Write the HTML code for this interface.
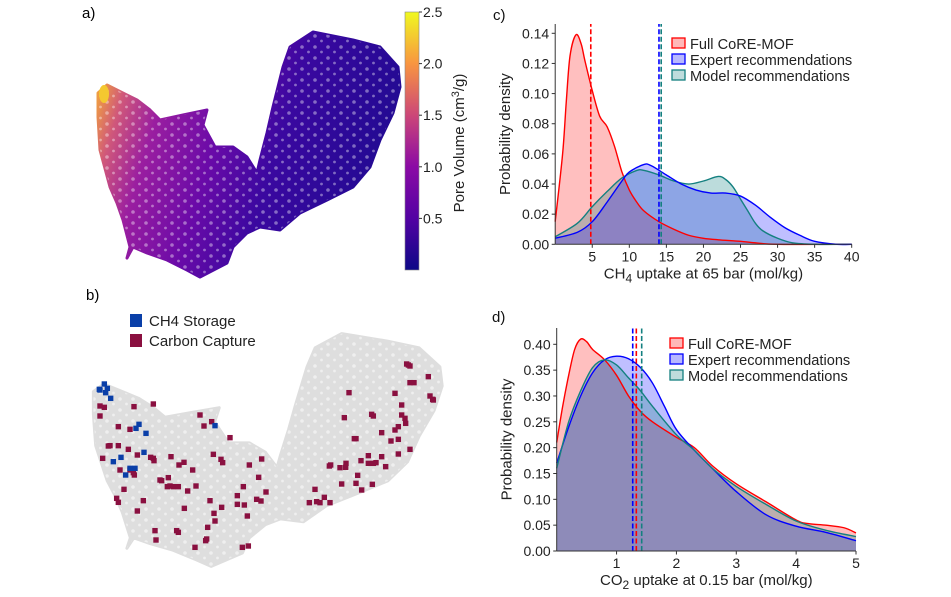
<!DOCTYPE html>
<html><head><meta charset="utf-8">
<style>
body{margin:0;background:#fff;}
svg{display:block;font-family:"Liberation Sans",sans-serif;}
</style></head>
<body>
<svg id="fig" width="951" height="597" viewBox="0 0 951 597" xmlns="http://www.w3.org/2000/svg">
<defs>
 <linearGradient id="pvgrad" gradientUnits="userSpaceOnUse" x1="98" y1="90" x2="400" y2="180">
  <stop offset="0" stop-color="#f0a040"/>
  <stop offset="0.08" stop-color="#d0587a"/>
  <stop offset="0.2" stop-color="#9a1ea0"/>
  <stop offset="0.4" stop-color="#6a0aa8"/>
  <stop offset="0.6" stop-color="#3a08a0"/>
  <stop offset="1" stop-color="#1e0a90"/>
 </linearGradient>
 <linearGradient id="cbgrad" x1="0" y1="1" x2="0" y2="0">
  <stop offset="0" stop-color="#0d0887"/>
  <stop offset="0.2" stop-color="#5302a3"/>
  <stop offset="0.4" stop-color="#8b0aa5"/>
  <stop offset="0.6" stop-color="#cc4778"/>
  <stop offset="0.8" stop-color="#f89540"/>
  <stop offset="1" stop-color="#f0f921"/>
 </linearGradient>
 <pattern id="speck" width="13" height="11" patternUnits="userSpaceOnUse">
  <circle cx="3" cy="3" r="1.8" fill="#fff"/>
  <circle cx="9.5" cy="8" r="1.4" fill="#fff"/>
 </pattern>
</defs>
<g id="panelA">
 <text x="82" y="18" font-size="15">a)</text>
</g>
<g id="panelB">
 <text x="86" y="300" font-size="15">b)</text>
 <rect x="130" y="314" width="12" height="13" fill="#0a3fa8"/>
 <text x="149" y="326" font-size="15" fill="#222">CH4 Storage</text>
 <rect x="130" y="334" width="12" height="13" fill="#8a1040"/>
 <text x="149" y="346" font-size="15" fill="#222">Carbon Capture</text>
</g>
<g id="panelC"></g>
<g id="panelD"></g>
</svg>
<script>
// ---- UMAP cloud outline (shared, in panel-a pixel space units) ----
const cloudX = [107,137,150,160,183,207,203,215,233,247,257,260,267,273,283,290,313,353,380,398,400,393,380,370,353,327,300,280,260,247,233,227,200,187,167,147,133,127,130,123,117,110,100,98,98];
const cloudY = [85,100,110,120,115,110,125,147,147,157,173,160,133,107,67,47,32,40,47,67,87,113,140,167,187,200,213,230,227,233,247,263,277,270,260,253,247,258,247,220,203,187,150,117,93];
// ---- panel b markers (UMAP units) ----
const carbonU = [120,133,120,175,210,222,280,145,150,175,128,205,232,272,280,282,180,210,220,223,192,170,175,250,232,285,288,350,355,300,305,325,322,330,340,355,333,357,372,398,383,408,373,420,432,455,510,460,483,488,605,568,596,532,550,532,553,590,603,618,562,450,485,462,465,443,440,437,405,547,565,765,748,770,780,793,810,808,812,840,857,858,845,888,893,903,905,925,937,925,940,948,965,977,965,935,940,883,888,853,867,1005,1005,1015,993,1015,1015,1050,1025,1025,1035,1037,1050,1062,1105,1110,1118,1120,1040,1045,1050];
const carbonV = [348,352,378,410,418,350,342,468,467,467,505,478,495,502,505,512,540,540,548,555,598,625,637,632,663,722,750,722,727,570,572,563,590,588,590,590,500,525,517,540,603,588,655,375,408,395,443,493,508,518,507,525,562,617,590,643,645,628,633,606,678,632,652,670,693,712,747,752,772,772,768,598,638,635,638,622,638,528,525,533,532,520,582,580,556,512,600,497,583,520,520,518,500,530,428,373,378,446,446,383,308,310,420,410,453,448,492,478,345,375,385,400,278,278,260,318,328,330,222,225,228];
const ch4U = [118,133,137,142,152,237,228,258,252,183,160,210,225,197,465,120];
const ch4V = [298,282,308,295,325,403,415,430,487,502,515,535,535,555,407,300];

// ---- panel c data ----
const cRedX = [0,1,1.5,2,2.8,3.5,4,5,6,7,8,9,10,11,12,14,16,18,20,22,25,27,30,40];
const cRedY = [0.015,0.06,0.095,0.125,0.139,0.133,0.122,0.102,0.085,0.078,0.065,0.048,0.036,0.028,0.022,0.015,0.01,0.006,0.004,0.003,0.002,0.001,0,0];
const cBlueX = [0,3,5,7,9,10,12,13,15,17,19,21,23,25,27,29,31,33,35,38,40];
const cBlueY = [0.004,0.008,0.015,0.028,0.042,0.048,0.053,0.052,0.046,0.040,0.036,0.034,0.034,0.032,0.026,0.018,0.011,0.006,0.002,0,0];
const cTealX = [0,3,5,7,9,11,12,14,16,18,20,22,23,24,25,26,27,28,30,32,35,40];
const cTealY = [0.005,0.014,0.025,0.035,0.044,0.049,0.049,0.046,0.042,0.040,0.042,0.045,0.043,0.038,0.030,0.022,0.014,0.009,0.004,0.001,0,0];
const cMeans = [4.8,14.0,14.3];
const cXTicks = [5,10,15,20,25,30,35,40];
const cYTicks = [0,0.02,0.04,0.06,0.08,0.10,0.12,0.14];

// ---- panel d data ----
const dRedX = [0,0.1,0.2,0.3,0.4,0.5,0.6,0.8,1.0,1.2,1.4,1.6,2.0,2.3,2.6,3.0,3.5,4.0,4.2,4.5,4.8,5];
const dRedY = [0.21,0.28,0.34,0.39,0.41,0.405,0.39,0.37,0.34,0.30,0.27,0.25,0.22,0.20,0.165,0.13,0.095,0.06,0.053,0.05,0.045,0.035];
const dBlueX = [0,0.2,0.4,0.6,0.8,1.0,1.2,1.4,1.6,1.8,2.0,2.3,2.6,3.0,3.5,4.0,4.5,5];
const dBlueY = [0.17,0.24,0.30,0.345,0.37,0.377,0.372,0.355,0.325,0.28,0.235,0.195,0.16,0.115,0.07,0.048,0.036,0.02];
const dTealX = [0,0.2,0.4,0.6,0.8,1.0,1.2,1.4,1.6,2.0,2.3,2.6,3.0,3.5,4.0,4.5,5];
const dTealY = [0.16,0.25,0.31,0.355,0.37,0.36,0.335,0.31,0.28,0.225,0.195,0.16,0.125,0.09,0.058,0.04,0.028];
const dMeans = [1.33,1.27,1.42];
const dXTicks = [1,2,3,4,5];
const dYTicks = [0,0.05,0.10,0.15,0.20,0.25,0.30,0.35,0.40];

const cbTicks = [0.5,1.0,1.5,2.0,2.5];

const NS = "http://www.w3.org/2000/svg";
function mk(tag, attrs, parent){const e=document.createElementNS(NS,tag);for(const k in attrs)e.setAttribute(k,attrs[k]);parent.appendChild(e);return e;}

// ---------- Panel A ----------
const pA = document.getElementById('panelA');
const aPts = cloudX.map((x,i)=>x+','+cloudY[i]).join(' ');
let cloudA = mk('polygon',{points:aPts,fill:'url(#pvgrad)','stroke':'url(#pvgrad)','stroke-width':3,'stroke-linejoin':'round'},pA);


let speckA = mk('polygon',{points:aPts,fill:'url(#speck)',opacity:0.4},pA);


let yel = mk('ellipse',{cx:104,cy:94,rx:5,ry:9,fill:'#f4c830'},pA);


// colorbar
const cbTop=12, cbBot=270, cbMax=2.5, cbMin=0;
const cbY = v => cbBot - (v-cbMin)/(cbMax-cbMin)*(cbBot-cbTop);
let cb = mk('rect',{x:405,y:cbTop,width:14,height:cbBot-cbTop,fill:'url(#cbgrad)',stroke:'#888','stroke-width':0.6},pA);


cbTicks.forEach(t=>{
  let l=mk('line',{x1:419,x2:422,y1:cbY(t),y2:cbY(t),stroke:'#333'},pA);
  
  
  let tx=mk('text',{x:423,y:cbY(t)+5,'font-size':14,fill:'#222'},pA);
  tx.textContent=t.toFixed(1);
  
  
});
let cbl = mk('text',{x:0,y:0,'font-size':15,fill:'#222','text-anchor':'middle',transform:'translate(464,143) rotate(-90)'},pA);
cbl.innerHTML='Pore Volume (cm<tspan dy="-5" font-size="11">3</tspan><tspan dy="5">/g)</tspan>';



// ---------- Panel B ----------
const pB = document.getElementById('panelB');
const bx = x => 98 + (x-102)*1.155, by = y => 383 + (y-84)*0.95;
const bPts = cloudX.map((x,i)=>bx(x)+','+by(cloudY[i])).join(' ');
let cloudB = mk('polygon',{points:bPts,fill:'#dedede',stroke:'#dedede','stroke-width':3,'stroke-linejoin':'round'},pB);


let speckB = mk('polygon',{points:bPts,fill:'url(#speck)',opacity:0.5},pB);


const ux = u => 60 + u/3, uy = v => 290 + v/3;
carbonU.forEach((u,i)=>{
  let r=mk('rect',{x:ux(u)-2.7,y:uy(carbonV[i])-2.7,width:5.4,height:5.4,fill:'#8a1040'},pB);
  
  
});
ch4U.forEach((u,i)=>{
  let r=mk('rect',{x:ux(u)-2.7,y:uy(ch4V[i])-2.7,width:5.4,height:5.4,fill:'#0a3fa8'},pB);
  
  
});

// ---------- density panels ----------
function smoothPath(px,py){
  let d='M'+px[0]+','+py[0];
  for(let i=0;i<px.length-1;i++){
    const x0=px[Math.max(i-1,0)],y0=py[Math.max(i-1,0)],x1=px[i],y1=py[i],x2=px[i+1],y2=py[i+1],x3=px[Math.min(i+2,px.length-1)],y3=py[Math.min(i+2,px.length-1)];
    const c1x=x1+(x2-x0)/6,c1y=y1+(y2-y0)/6,c2x=x2-(x3-x1)/6,c2y=y2-(y3-y1)/6;
    d+=' C'+c1x+','+c1y+' '+c2x+','+c2y+' '+x2+','+y2;
  }
  return d;
}
function densityPanel(g,cfg){
  const sx=v=>cfg.x0+(v-cfg.xmin)/(cfg.xmax-cfg.xmin)*(cfg.x1-cfg.x0);
  const sy=v=>cfg.y0-(v)/(cfg.ymax)*(cfg.y0-cfg.y1);
  let lab=mk('text',{x:cfg.labX,y:cfg.labY,'font-size':15,fill:'#111'},g);
  lab.textContent=cfg.label;
  
  
  cfg.series.forEach(s=>{
    const px=s.x.map(sx), py=s.y.map(v=>Math.min(sy(v),cfg.y0));
    const line=smoothPath(px,py);
    let a=mk('path',{d:line+' L'+px[px.length-1]+','+cfg.y0+' L'+px[0]+','+cfg.y0+' Z',fill:s.fill,'fill-opacity':s.op},g);
    
    
  });
  cfg.series.forEach(s=>{
    const px=s.x.map(sx), py=s.y.map(v=>Math.min(sy(v),cfg.y0));
    let l=mk('path',{d:smoothPath(px,py),fill:'none',stroke:s.stroke,'stroke-width':1.4},g);
    
    
  });
  cfg.means.forEach((m,i)=>{
    let l=mk('line',{x1:sx(m),x2:sx(m),y1:cfg.y0,y2:cfg.meanTop,stroke:cfg.meanColors[i],'stroke-width':1.6,'stroke-dasharray':'5,2.5'},g);
    
    
  });
  let ax=mk('line',{x1:cfg.x0,x2:cfg.x1,y1:cfg.y0,y2:cfg.y0,stroke:'#333','stroke-width':1},g);
  
  
  let ay=mk('line',{x1:cfg.x0,x2:cfg.x0,y1:cfg.y0,y2:cfg.yTop,stroke:'#333','stroke-width':1},g);
  
  
  cfg.xticks.forEach(t=>{
    let l=mk('line',{x1:sx(t),x2:sx(t),y1:cfg.y0,y2:cfg.y0+3.5,stroke:'#333'},g);
    
    
    let tx=mk('text',{x:sx(t),y:cfg.y0+17,'font-size':14,'text-anchor':'middle',fill:'#222'},g);
    tx.textContent=String(t);
    
    
  });
  cfg.yticks.forEach(t=>{
    let l=mk('line',{x1:cfg.x0-3.5,x2:cfg.x0,y1:sy(t),y2:sy(t),stroke:'#333'},g);
    
    
    let tx=mk('text',{x:cfg.x0-6,y:sy(t)+5,'font-size':14,'text-anchor':'end',fill:'#222'},g);
    tx.textContent=t.toFixed(2);
    
    
  });
  let xt=mk('text',{x:(cfg.x0+cfg.x1)/2,y:cfg.y0+34,'font-size':15,'text-anchor':'middle',fill:'#222'},g);
  xt.innerHTML=cfg.xtitle;
  
  
  let yt=mk('text',{x:0,y:0,'font-size':15,'text-anchor':'middle',fill:'#222',transform:'translate('+(cfg.x0-45)+','+((cfg.y0+cfg.yTop)/2)+') rotate(-90)'},g);
  yt.textContent='Probability density';
  
  
  const leg=[['Full CoRE-MOF','#ff0000','rgba(255,0,0,0.28)','legend-full-core-mof'],['Expert recommendations','#0000ff','rgba(0,0,255,0.28)','legend-expert-recommendations'],['Model recommendations','#148080','rgba(20,128,128,0.28)','legend-model-recommendations']];
  leg.forEach((e,i)=>{
    const yy=cfg.legY+i*16;
    let r=mk('rect',{x:cfg.legX,y:yy-11,width:13,height:10,fill:e[2],stroke:e[1],'stroke-width':1.3},g);
    
    
    let t=mk('text',{x:cfg.legX+18,y:yy,'font-size':14.6,fill:'#222'},g);
    t.textContent=e[0];
    
    
  });
}
densityPanel(document.getElementById('panelC'),{
  x0:555.2,x1:851.7,xmin:0,xmax:40,y0:244.3,y1:33.3,ymax:0.14,yTop:24,
  label:'c)',labX:493,labY:20,labelName:'panel-c-label',
  series:[{x:cRedX,y:cRedY,fill:'#ff0000',op:0.25,stroke:'#ff0000',name:'full-core-mof'},
          {x:cTealX,y:cTealY,fill:'#108080',op:0.28,stroke:'#148080',name:'model-recommendations'},
          {x:cBlueX,y:cBlueY,fill:'#0000ff',op:0.25,stroke:'#0000ff',name:'expert-recommendations'}],
  means:cMeans,meanColors:['#ff0000','#0000ff','#148080'],meanNames:['mean-full-core-mof','mean-expert','mean-model'],meanTop:24,
  xticks:cXTicks,yticks:cYTicks,
  xtitle:'CH<tspan dy="4" font-size="12">4</tspan><tspan dy="-4"> uptake at 65 bar (mol/kg)</tspan>',
  legX:672,legY:49
});
densityPanel(document.getElementById('panelD'),{
  x0:556.7,x1:856,xmin:0,xmax:5,y0:551,y1:344.3,ymax:0.40,yTop:328,
  label:'d)',labX:492,labY:322,labelName:'panel-d-label',
  series:[{x:dRedX,y:dRedY,fill:'#ff0000',op:0.25,stroke:'#ff0000',name:'full-core-mof'},
          {x:dBlueX,y:dBlueY,fill:'#0000ff',op:0.25,stroke:'#0000ff',name:'expert-recommendations'},
          {x:dTealX,y:dTealY,fill:'#108080',op:0.28,stroke:'#148080',name:'model-recommendations'}],
  means:dMeans,meanColors:['#ff0000','#0000ff','#148080'],meanNames:['mean-full-core-mof','mean-expert','mean-model'],meanTop:328,
  xticks:dXTicks,yticks:dYTicks,
  xtitle:'CO<tspan dy="4" font-size="12">2</tspan><tspan dy="-4"> uptake at 0.15 bar (mol/kg)</tspan>',
  legX:670,legY:349
});
</script>
</body></html>
